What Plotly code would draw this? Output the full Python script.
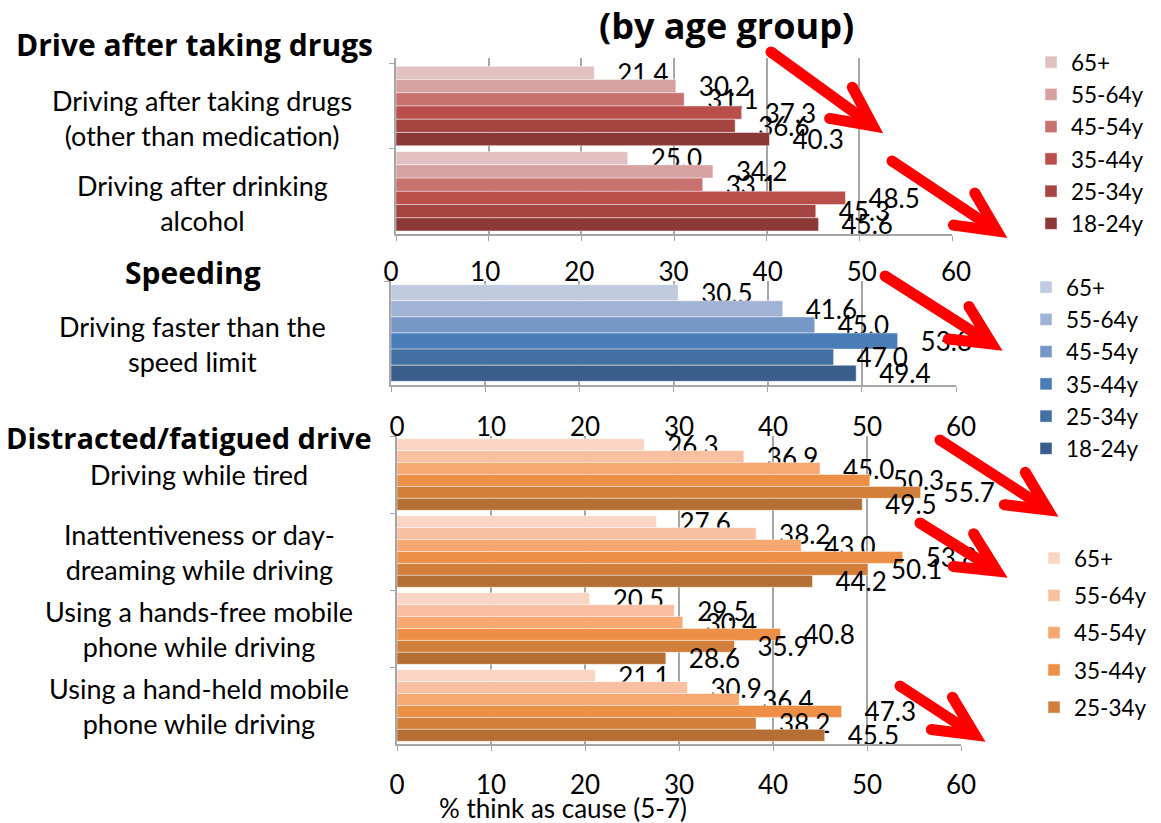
import math
import plotly.graph_objects as go

W, H = 1161, 823
FONT = "Lato"
BOLD_FONT = "Open Sans"

# ---- data -----------------------------------------------------------------
age_groups = ["65+", "55-64y", "45-54y", "35-44y", "25-34y", "18-24y"]

drug_categories = ["Driving after taking drugs<br>(other than medication)",
                   "Driving after drinking<br>alcohol"]
drugs_other = [21.4, 30.2, 31.1, 37.3, 36.6, 40.3]
drink_alcohol = [25.0, 34.2, 33.1, 48.5, 45.3, 45.6]

speed_categories = ["Driving faster than the<br>speed limit"]
speed_limit = [30.5, 41.6, 45.0, 53.8, 47.0, 49.4]

distract_categories = ["Driving while tired",
                       "Inattentiveness or day-<br>dreaming while driving",
                       "Using a hands-free mobile<br>phone while driving",
                       "Using a hand-held mobile<br>phone while driving"]
tired = [26.3, 36.9, 45.0, 50.3, 55.7, 49.5]
inattentive = [27.6, 38.2, 43.0, 53.8, 50.1, 44.2]
hands_free = [20.5, 29.5, 30.4, 40.8, 35.9, 28.6]
hand_held = [21.1, 30.9, 36.4, 47.3, 38.2, 45.5]

x_ticks = [0, 10, 20, 30, 40, 50, 60]

red_colors = ["#e2c1c2", "#d7a1a1", "#c87270", "#b94e4a", "#a64442", "#8b3836"]
blue_colors = ["#c0cbe0", "#a1b3d4", "#7797c7", "#4a7cb6", "#436fa3", "#3a5e8b"]
orange_colors = ["#fad5c3", "#f8c0a1", "#f7a770", "#ed9046", "#d37f3c", "#b56e34"]

# ---- layout helpers (pixel boxes of the three panels) ---------------------
def fx(px):
    return px / W


def fy(py):
    return 1 - py / H


panel_boxes = {
    1: ((396, 952), (58, 234)),
    2: ((391, 956), (281, 385)),
    3: ((397, 961), (436, 744)),
}

GRID = "#a6a6a6"

fig = go.Figure()


def add_panel(n, categories, series, colors, legend, hidden=()):
    ax = "x" if n == 1 else f"x{n}"
    ay = "y" if n == 1 else f"y{n}"
    for i, age in enumerate(age_groups):
        vals = [s[i] for s in series]
        fig.add_trace(go.Bar(
            x=vals, y=categories, orientation="h", name=age,
            marker=dict(color=colors[i],
                        line=dict(color="rgba(255,255,255,0.45)", width=1)),
            texttemplate="\u00a0\u00a0\u00a0%{x:.1f}",
            textposition="outside", cliponaxis=False, constraintext="none",
            textfont=dict(family=FONT, size=26, color="black"),
            xaxis=ax, yaxis=ay, legend=legend, legendgroup=f"{legend}-{i}",
            showlegend=age not in hidden, hoverinfo="x+name",
        ))


add_panel(1, drug_categories, [drugs_other, drink_alcohol], red_colors, "legend")
add_panel(2, speed_categories, [speed_limit], blue_colors, "legend2")
add_panel(3, distract_categories, [tired, inattentive, hands_free, hand_held],
          orange_colors, "legend3", hidden=("18-24y",))

# carriers for the value scales printed above the speeding and distracted panels
for ax, ay, cats in (("x5", "y2", speed_categories), ("x4", "y3", distract_categories)):
    fig.add_trace(go.Scatter(x=[0], y=[cats[0]], xaxis=ax, yaxis=ay, mode="markers",
                             marker=dict(opacity=0), showlegend=False,
                             hoverinfo="skip"))

axis_common = dict(range=[0, 60], tickvals=x_ticks, showgrid=True, gridcolor=GRID,
                   gridwidth=1.5, zeroline=False, showline=True, linecolor=GRID,
                   linewidth=1.5, ticks="outside", ticklen=5, tickcolor=GRID,
                   tickfont=dict(family=FONT, size=26, color="black"),
                   fixedrange=True)
yaxis_common = dict(type="category", autorange="reversed", showticklabels=False,
                    showgrid=False, zeroline=False, showline=True, linecolor=GRID,
                    linewidth=1.5, ticks="outside", tickson="boundaries",
                    ticklen=5, tickcolor=GRID, fixedrange=True)

layout_axes = {}
for n, ((xl, xr), (yt, yb)) in panel_boxes.items():
    xk = "xaxis" if n == 1 else f"xaxis{n}"
    yk = "yaxis" if n == 1 else f"yaxis{n}"
    ay = "y" if n == 1 else f"y{n}"
    ax = "x" if n == 1 else f"x{n}"
    layout_axes[xk] = dict(axis_common, domain=[fx(xl), fx(xr)], anchor=ay,
                           showticklabels=(n == 3))
    layout_axes[yk] = dict(yaxis_common, domain=[fy(yb), fy(yt)], anchor=ax)

layout_axes["xaxis3"]["ticklabelstandoff"] = 12

for n, overlay, anchor in ((4, "x3", "y3"), (5, "x2", "y2")):
    layout_axes[f"xaxis{n}"] = dict(range=[0, 60], tickvals=x_ticks, overlaying=overlay,
                                    anchor=anchor, side="top", showgrid=False,
                                    zeroline=False, showline=False, ticks="",
                                    ticklabelstandoff=-6,
                                    tickfont=dict(family=FONT, size=26, color="black"),
                                    fixedrange=True)

fig.update_layout(**layout_axes)

# ---- text ------------------------------------------------------------------
annotations = []
label_style = dict(font=dict(family=FONT, size=27, color="black"), showarrow=False,
                   xanchor="center", yanchor="middle", align="center")

for cat in drug_categories:
    annotations.append(dict(label_style, text=cat, xref="paper", yref="y",
                            x=fx(202), y=cat, yshift=-12))
for cat in speed_categories:
    annotations.append(dict(label_style, text=cat, xref="paper", yref="y2",
                            x=fx(192), y=cat, yshift=-11))
for cat in distract_categories:
    annotations.append(dict(label_style, text=cat, xref="paper", yref="y3",
                            x=fx(199), y=cat, yshift=0))

header_style = dict(font=dict(family=BOLD_FONT, size=30, color="black"), showarrow=False,
                    xanchor="center", yanchor="middle", xref="paper", yref="paper")
annotations += [
    dict(header_style, text="<b>Drive after taking drugs</b>", x=fx(194), y=fy(45)),
    dict(header_style, text="<b>Speeding</b>", x=fx(193), y=fy(273)),
    dict(header_style, text="<b>Distracted/fatigued drive</b>", x=fx(189), y=fy(437),
         font=dict(family=BOLD_FONT, size=29, color="black")),
    dict(header_style, text="<b>(by age group)</b>", x=fx(726), y=fy(25),
         font=dict(family=BOLD_FONT, size=36, color="black")),
    dict(showarrow=False, text="% think as cause (5-7)", xref="paper", yref="paper",
         x=fx(563), y=fy(808), xanchor="center", yanchor="middle",
         font=dict(family=FONT, size=26, color="black")),
]

# ---- red trend arrows --------------------------------------------------------
arrow_paths = [
    ((771, 52), (873, 126)),
    ((892, 161), (997, 231)),
    ((885, 276), (992, 344)),
    ((940, 440), (1048, 510)),
    ((920, 523), (997, 571)),
    ((900, 686), (975, 735)),
]


def arrow_shapes(start, tip, head=44, spread=26, width=11, color="#ff0000"):
    (x0, y0), (x1, y1) = start, tip
    ang = math.atan2(y1 - y0, x1 - x0)
    wings = []
    for s in (-1, 1):
        a = ang + math.pi + s * math.radians(spread)
        wings.append((x1 + head * math.cos(a), y1 + head * math.sin(a)))

    def P(x, y):
        return f"{fx(x):.5f},{fy(y):.5f}"

    out = [
        dict(type="path", path=f"M{P(x0, y0)} L{P(x1, y1)}", xref="paper", yref="paper",
             line=dict(color=color, width=width)),
        dict(type="path", path=f"M{P(*wings[0])} L{P(x1, y1)} L{P(*wings[1])}",
             xref="paper", yref="paper", line=dict(color=color, width=width)),
    ]
    r = width / 2
    for cx, cy in [(x0, y0)] + wings:
        out.append(dict(type="circle", xref="paper", yref="paper",
                        x0=fx(cx - r), x1=fx(cx + r), y0=fy(cy + r), y1=fy(cy - r),
                        fillcolor=color, line=dict(width=0)))
    return out


shapes = []
for start, tip in arrow_paths:
    shapes += arrow_shapes(start, tip)

legend_style = dict(font=dict(family=FONT, size=22.5, color="black"),
                    bgcolor="rgba(0,0,0,0)", borderwidth=0, xanchor="left",
                    yanchor="top", itemclick=False, itemdoubleclick=False)

fig.update_layout(
    width=W, height=H,
    margin=dict(l=0, r=0, t=0, b=0, autoexpand=False),
    paper_bgcolor="white", plot_bgcolor="white",
    font=dict(family=FONT, size=24, color="black"),
    barmode="group", bargap=0.07, bargroupgap=0,
    annotations=annotations, shapes=shapes,
    legend=dict(legend_style, x=fx(1031), y=fy(41), traceorder="normal"),
    legend2=dict(legend_style, x=fx(1026), y=fy(266), traceorder="normal"),
    legend3=dict(legend_style, x=fx(1034), y=fy(537), traceorder="grouped",
                 tracegroupgap=5),
)

fig.write_html("out.html")
